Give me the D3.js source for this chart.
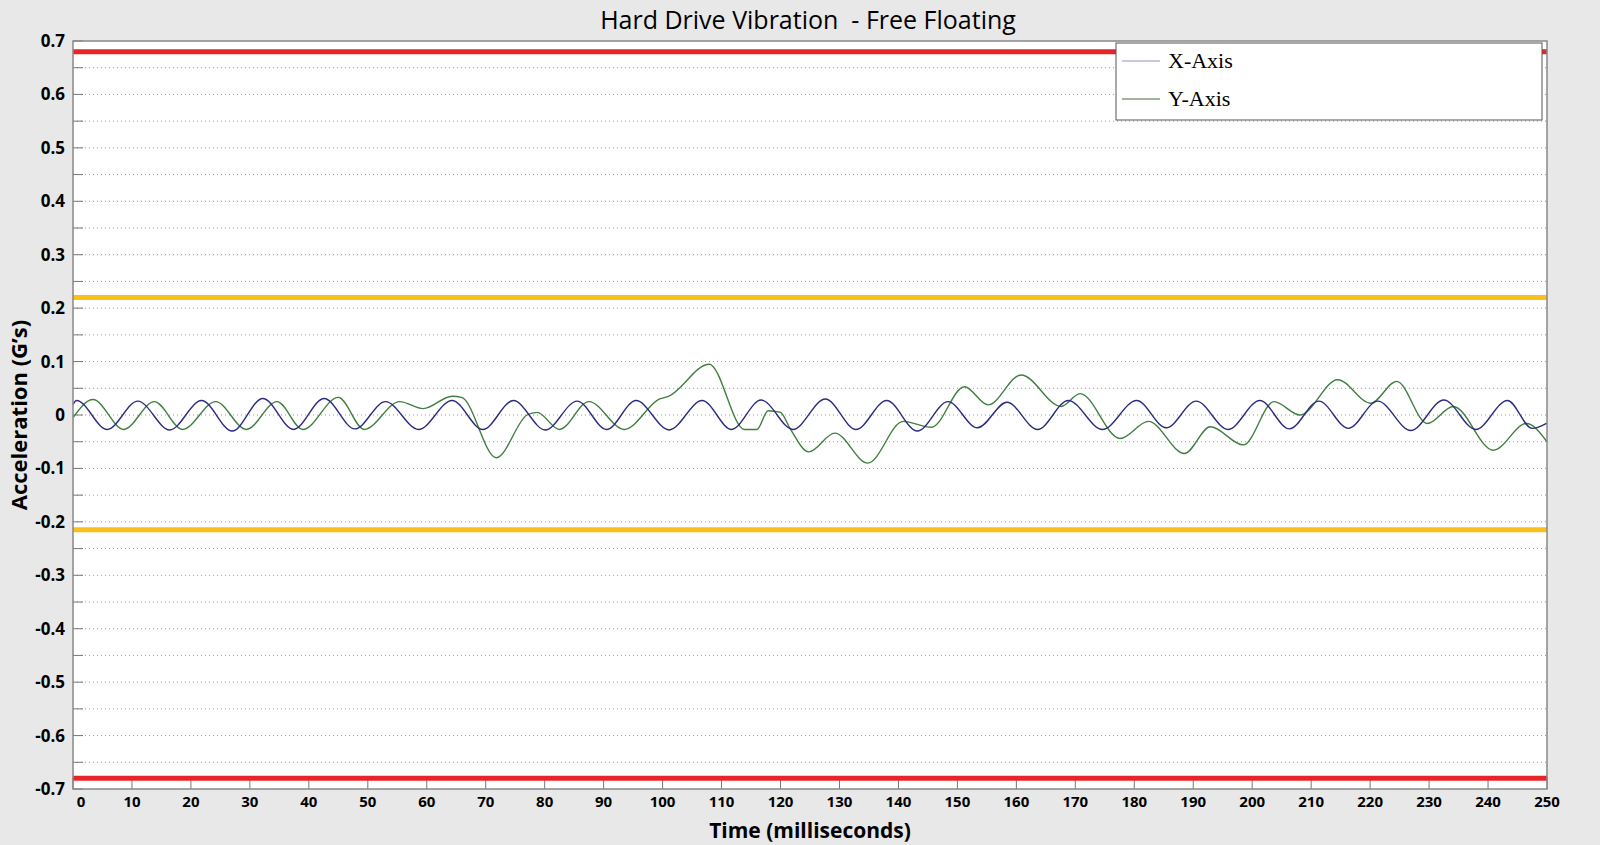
<!DOCTYPE html>
<html>
<head>
<meta charset="utf-8">
<script src="https://cdn.jsdelivr.net/npm/d3@7"></script>
<style>
  body { margin: 0; background: #e8e8e8; }
  svg { display: block; }
</style>
</head>
<body>
<svg id="chart" width="1600" height="845"></svg>
<script>
(function () {
  // X-Axis: peaks and troughs (ms, G's)
  var X_T = [0, 0.6, 5.8, 11, 16.4, 21.8, 27, 32.2, 37.4, 42.6, 47.8, 53, 58.6, 64.3, 69.5, 74.7, 80.1, 85.5, 90.5, 95.5, 101.1, 106.7, 111.7,
    116.7, 122.1, 127.6, 132.8, 138, 143.2, 148.4, 153.4, 158.4, 163.6, 168.8, 174.6, 180.4, 185.4, 190.5, 195.9, 201.3, 206.3, 211.3,
    216.3, 221.3, 226.9, 232.5, 237.9, 243.3, 247.5, 250];
  var X_V = [0.02, 0.027, -0.027, 0.026, -0.028, 0.027, -0.03, 0.031, -0.027, 0.031, -0.026, 0.025, -0.027, 0.027, -0.027, 0.027, -0.028, 0.026, -0.027, 0.027,
    -0.028, 0.027, -0.027, 0.028, -0.027, 0.03, -0.027, 0.027, -0.03, 0.025, -0.024, 0.024, -0.027, 0.027, -0.027, 0.027, -0.024, 0.026, -0.027, 0.027,
    -0.026, 0.026, -0.025, 0.026, -0.029, 0.028, -0.027, 0.027, -0.025, -0.015];
  // Y-Axis
  var Y_T = [0, 3.4, 8.6, 13.8, 18.6, 24.2, 29.4, 34.6, 39, 45, 49.4, 55.4, 59.4, 64.3, 65.9, 71.8, 77, 78.7, 82.5, 87.5, 93.5, 99.5, 101,
    107.9, 113.9, 116, 117.9, 120, 121.6, 124.8, 129.2, 134.8, 140.8, 145.6, 151.2, 155.2, 160.8, 167.6, 170.8, 177.6, 182.4, 188.5, 192.9,
    198.5, 203.7, 208.1, 214.5, 220.1, 224.5, 229.7, 234.1, 240.9, 246.5, 250];
  var Y_V = [-0.005, 0.029, -0.027, 0.025, -0.027, 0.025, -0.027, 0.025, -0.027, 0.033, -0.027, 0.025, 0.012, 0.035, 0.033, -0.08, 0, 0.005, -0.027, 0.025,
    -0.027, 0.03, 0.035, 0.095, -0.027, -0.027, 0.008, 0.005, -0.025, -0.069, -0.034, -0.09, -0.012, -0.023, 0.053, 0.019, 0.075, 0.016,
    0.04, -0.044, -0.012, -0.072, -0.022, -0.056, 0.025, 0, 0.066, 0.022, 0.063, -0.016, 0.016, -0.066, -0.016, -0.05];
  var LIMITS = [
    { v: 0.68, color: '#e8242b' },
    { v: -0.68, color: '#e8242b' },
    { v: 0.22, color: '#fbbf1a' },
    { v: -0.215, color: '#fbbf1a' }
  ];
  var X_TICKS = d3.range(0, 251, 10);
  var Y_TICKS = d3.range(-0.7, 0.701, 0.1);
  var Y_GRID = d3.range(-0.7, 0.701, 0.05);

  var m = { left: 73, right: 53, top: 41, bottom: 56 };
  var W = 1600, H = 845;
  var svg = d3.select('#chart');
  var x = d3.scaleLinear().domain([0, 250]).range([m.left, W - m.right]);
  var y = d3.scaleLinear().domain([-0.7, 0.7]).range([H - m.bottom, m.top]);

  svg.append('rect')
      .attr('x', m.left).attr('y', m.top)
      .attr('width', x(250) - m.left).attr('height', y(-0.7) - m.top)
      .attr('fill', '#fff');

  svg.append('g').selectAll('line')
      .data(Y_GRID.slice(1, -1))
    .enter().append('line')
      .attr('x1', m.left).attr('x2', x(250))
      .attr('y1', function (d) { return y(d); }).attr('y2', function (d) { return y(d); })
      .attr('stroke', '#999').attr('stroke-dasharray', '1,3');

  // tick marks
  svg.append('g').selectAll('line')
      .data(Y_GRID)
    .enter().append('line')
      .attr('x1', m.left).attr('x2', m.left + 10)
      .attr('y1', function (d) { return y(d); }).attr('y2', function (d) { return y(d); })
      .attr('stroke', '#777');
  svg.append('g').selectAll('line')
      .data(X_TICKS)
    .enter().append('line')
      .attr('x1', function (d) { return x(d); }).attr('x2', function (d) { return x(d); })
      .attr('y1', y(-0.7)).attr('y2', y(-0.7) - 12)
      .attr('stroke', '#777');

  LIMITS.forEach(function (l) {
    svg.append('line')
        .attr('x1', m.left).attr('x2', x(250))
        .attr('y1', y(l.v)).attr('y2', y(l.v))
        .attr('stroke', l.color).attr('stroke-width', 5);
  });

  var line = d3.line().curve(d3.curveMonotoneX)
      .x(function (d) { return x(d[0]); })
      .y(function (d) { return y(d[1]); });
  svg.append('path')
      .datum(d3.zip(Y_T, Y_V))
      .attr('d', line).attr('fill', 'none')
      .attr('stroke', '#3f7f3f').attr('stroke-width', 1.4);
  svg.append('path')
      .datum(d3.zip(X_T, X_V))
      .attr('d', line).attr('fill', 'none')
      .attr('stroke', '#2b2b80').attr('stroke-width', 1.4);

  svg.append('rect')
      .attr('x', m.left).attr('y', m.top)
      .attr('width', x(250) - m.left).attr('height', y(-0.7) - m.top)
      .attr('fill', 'none').attr('stroke', '#888').attr('stroke-width', 1.5);

  // tick labels
  svg.append('g').selectAll('text')
      .data(Y_TICKS)
    .enter().append('text')
      .attr('x', m.left - 8).attr('y', function (d) { return y(d) + 6; })
      .attr('text-anchor', 'end')
      .attr('font-family', 'Open Sans, sans-serif').attr('font-weight', 'bold').attr('font-size', 17)
      .text(function (d) { return Math.abs(d) < 1e-9 ? '0' : d3.format('.1f')(d).replace('−', '-'); });
  svg.append('g').selectAll('text')
      .data(X_TICKS)
    .enter().append('text')
      .attr('x', function (d) { return x(d) + (d === 0 ? 8 : 0); }).attr('y', y(-0.7) + 18)
      .attr('text-anchor', 'middle')
      .attr('font-family', 'Open Sans, sans-serif').attr('font-weight', 'bold').attr('font-size', 15)
      .text(function (d) { return d; });

  svg.append('text')
      .attr('x', 808).attr('y', 29).attr('text-anchor', 'middle')
      .style('white-space', 'pre')
      .attr('font-family', 'Open Sans, sans-serif').attr('font-size', 25)
      .text('Hard Drive Vibration  - Free Floating');
  svg.append('text')
      .attr('x', (m.left + x(250)) / 2).attr('y', 838).attr('text-anchor', 'middle')
      .attr('font-family', 'Open Sans, sans-serif').attr('font-weight', 'bold').attr('font-size', 21)
      .text('Time (milliseconds)');
  svg.append('text')
      .attr('transform', 'translate(27,' + y(0) + ') rotate(-90)').attr('text-anchor', 'middle')
      .attr('font-family', 'Open Sans, sans-serif').attr('font-weight', 'bold').attr('font-size', 22)
      .text('Acceleration (G\u2019s)');

  // legend
  var lg = svg.append('g').attr('transform', 'translate(1116,43)');
  lg.append('rect').attr('width', 426).attr('height', 77)
      .attr('fill', '#fff').attr('stroke', '#555');
  [['X-Axis', '#8f8fc8'], ['Y-Axis', '#3f6f3f']].forEach(function (d, i) {
    var yy = 18 + i * 38;
    lg.append('line').attr('x1', 6).attr('x2', 44).attr('y1', yy).attr('y2', yy)
        .attr('stroke', d[1]).attr('stroke-width', 1.2);
    lg.append('text').attr('x', 52).attr('y', yy + 7)
        .attr('font-family', 'Liberation Serif, serif').attr('font-size', 22)
        .text(d[0]);
  });
}());
</script>
</body>
</html>
